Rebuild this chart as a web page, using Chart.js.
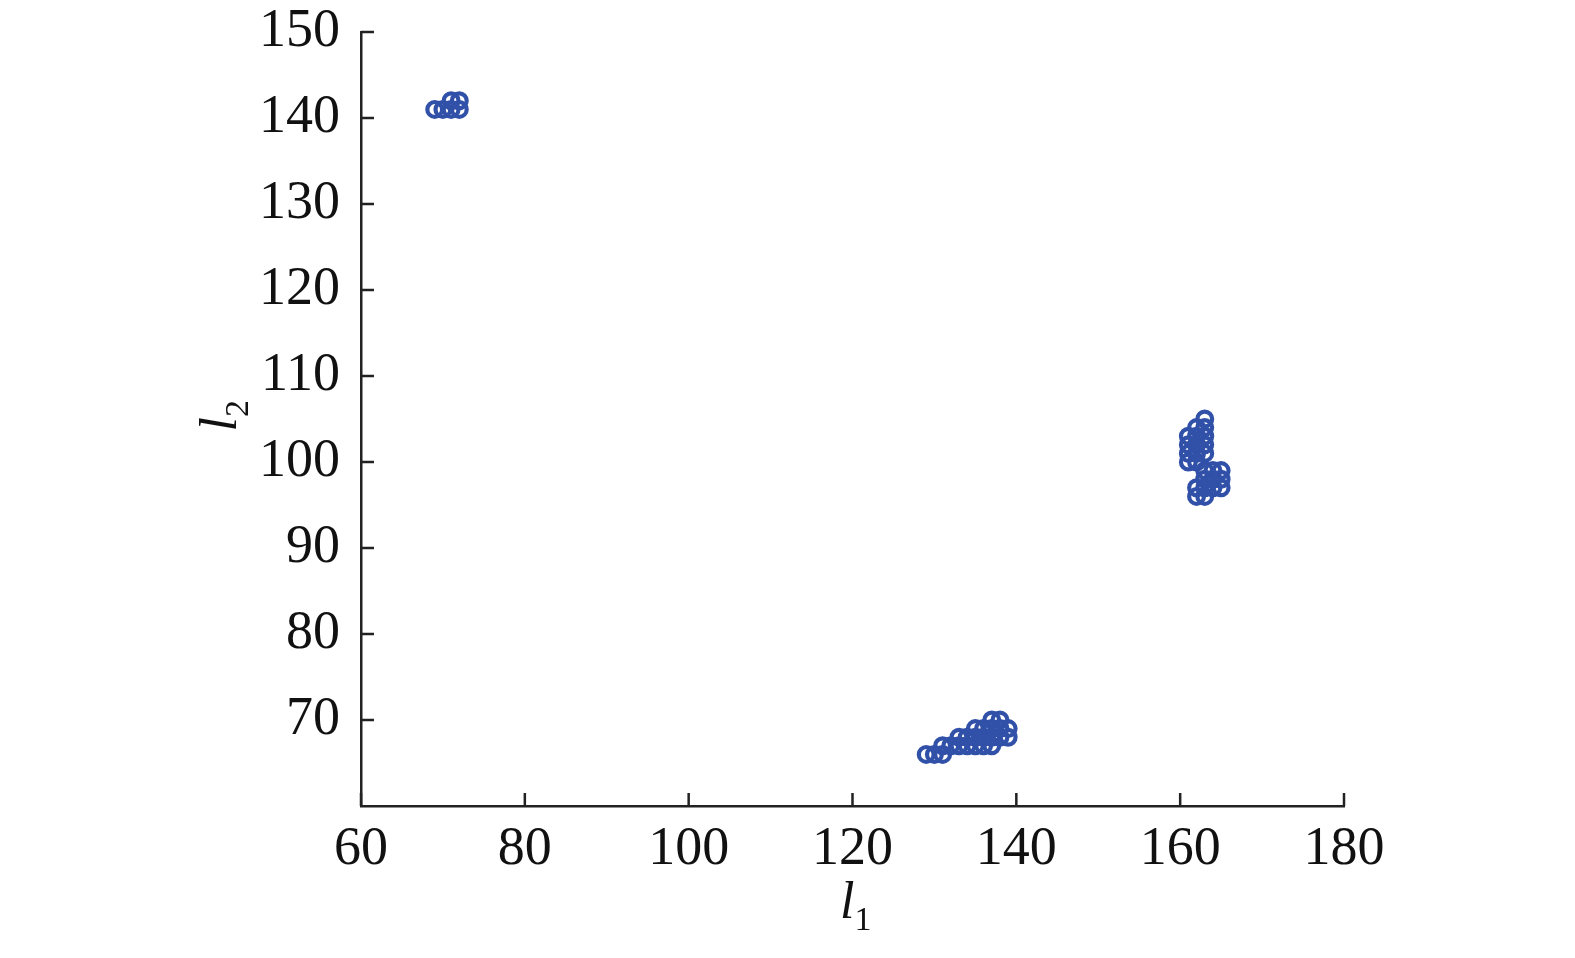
<!DOCTYPE html>
<html>
<head>
<meta charset="utf-8">
<script src="https://cdn.jsdelivr.net/npm/chart.js@4/dist/chart.umd.min.js"></script>
<style>
  html, body { margin: 0; padding: 0; background: #fff; }
  #wrap { width: 1575px; height: 958px; }
</style>
</head>
<body>
<div id="wrap"><canvas id="plot"></canvas></div>
<script>
// cluster points (l1, l2)
const l1Values = [
    69, 70, 71, 72, 71, 72,
    129, 130, 131,
    131, 132, 133, 134, 135, 136, 137,
    133, 134, 135, 136, 137, 138, 139,
    135, 136, 137, 138, 139,
    137, 138,
    161, 161, 161, 161,
    162, 162, 162, 162, 162,
    163, 163, 163, 163, 163,
    162, 162, 163, 163, 163, 163,
    164, 164, 164, 165, 165, 165
];
const l2Values = [
    141, 141, 141, 141, 142, 142,
    66, 66, 66,
    67, 67, 67, 67, 67, 67, 67,
    68, 68, 68, 68, 68, 68, 68,
    69, 69, 69, 69, 69,
    70, 70,
    100, 101, 102, 103,
    100, 101, 102, 103, 104,
    101, 102, 103, 104, 105,
    96, 97, 96, 97, 98, 99,
    97, 98, 99, 97, 98, 99
];
const xTicks = [60, 80, 100, 120, 140, 160, 180];
const yTicks = [70, 80, 90, 100, 110, 120, 130, 140, 150];

const points = l1Values.map((x, i) => ({ x: x, y: l2Values[i] }));

const axisColour = '#222';
const markColour = '#3151a9';
const serif = '"Liberation Serif", "Times New Roman", serif';

// ticks pointing inwards, plus the axis titles l1 / l2 with subscripts
const axisDecor = {
    id: 'axisDecor',
    afterDraw(chart) {
        const ctx = chart.ctx;
        const xs = chart.scales.x, ys = chart.scales.y;
        const area = chart.chartArea;
        ctx.save();
        ctx.strokeStyle = axisColour;
        ctx.lineWidth = 2.5;
        ctx.beginPath();
        xTicks.forEach(v => {
            const px = xs.getPixelForValue(v);
            ctx.moveTo(px, area.bottom);
            ctx.lineTo(px, area.bottom - 13);
        });
        yTicks.forEach(v => {
            const py = ys.getPixelForValue(v);
            ctx.moveTo(area.left, py);
            ctx.lineTo(area.left + 13, py);
        });
        ctx.stroke();

        // x title
        ctx.fillStyle = '#111';
        ctx.textBaseline = 'alphabetic';
        const cx = (area.left + area.right) / 2;
        ctx.font = 'italic 52px ' + serif;
        ctx.textAlign = 'right';
        ctx.fillText('l', cx + 2, 918);
        ctx.font = '34px ' + serif;
        ctx.textAlign = 'left';
        ctx.fillText('1', cx + 2, 930);

        // y title (rotated)
        const cy = (area.top + area.bottom) / 2;
        ctx.translate(236, cy);
        ctx.rotate(-Math.PI / 2);
        ctx.font = 'italic 52px ' + serif;
        ctx.textAlign = 'right';
        ctx.fillText('l', 2, 0);
        ctx.font = '34px ' + serif;
        ctx.textAlign = 'left';
        ctx.fillText('2', 2, 12);
        ctx.restore();
    }
};

new Chart(document.getElementById('plot'), {
    type: 'scatter',
    data: {
        datasets: [{
            label: 'l1-l2',
            data: points,
            borderColor: markColour,
            backgroundColor: 'rgba(0,0,0,0)',
            borderWidth: 4.2,
            pointBorderWidth: 4.2,
            pointRadius: 7.4,
            pointHoverRadius: 7.4,
            pointHoverBorderWidth: 4.2
        }]
    },
    options: {
        responsive: true,
        maintainAspectRatio: false,
        animation: false,
        events: [],
        elements: {
            point: { radius: 7.4, borderWidth: 4.2, hoverBorderWidth: 4.2, borderColor: markColour }
        },
        layout: { padding: { top: 32, right: 231, left: 0, bottom: 0 } },
        plugins: { legend: { display: false }, tooltip: { enabled: false } },
        scales: {
            x: {
                type: 'linear',
                min: 60, max: 180,
                afterBuildTicks: s => { s.ticks = xTicks.map(v => ({ value: v })); },
                afterFit: s => { s.height = 152; s.paddingLeft = 0; s.paddingRight = 0; },
                grid: { display: true, drawOnChartArea: false, drawTicks: false, color: 'rgba(0,0,0,0)' },
                border: { display: true, color: axisColour, width: 2.5 },
                ticks: { color: '#111', font: { family: serif, size: 54 }, padding: 11, maxRotation: 0 }
            },
            y: {
                type: 'linear',
                min: 60, max: 150,
                afterBuildTicks: s => { s.ticks = yTicks.map(v => ({ value: v })); },
                afterFit: s => { s.width = 361; s.paddingTop = 0; s.paddingBottom = 0; },
                grid: { display: true, drawOnChartArea: false, drawTicks: false, color: 'rgba(0,0,0,0)' },
                border: { display: true, color: axisColour, width: 2.5 },
                ticks: { color: '#111', font: { family: serif, size: 54 }, padding: 21 }
            }
        }
    },
    plugins: [axisDecor]
});
</script>
</body>
</html>
